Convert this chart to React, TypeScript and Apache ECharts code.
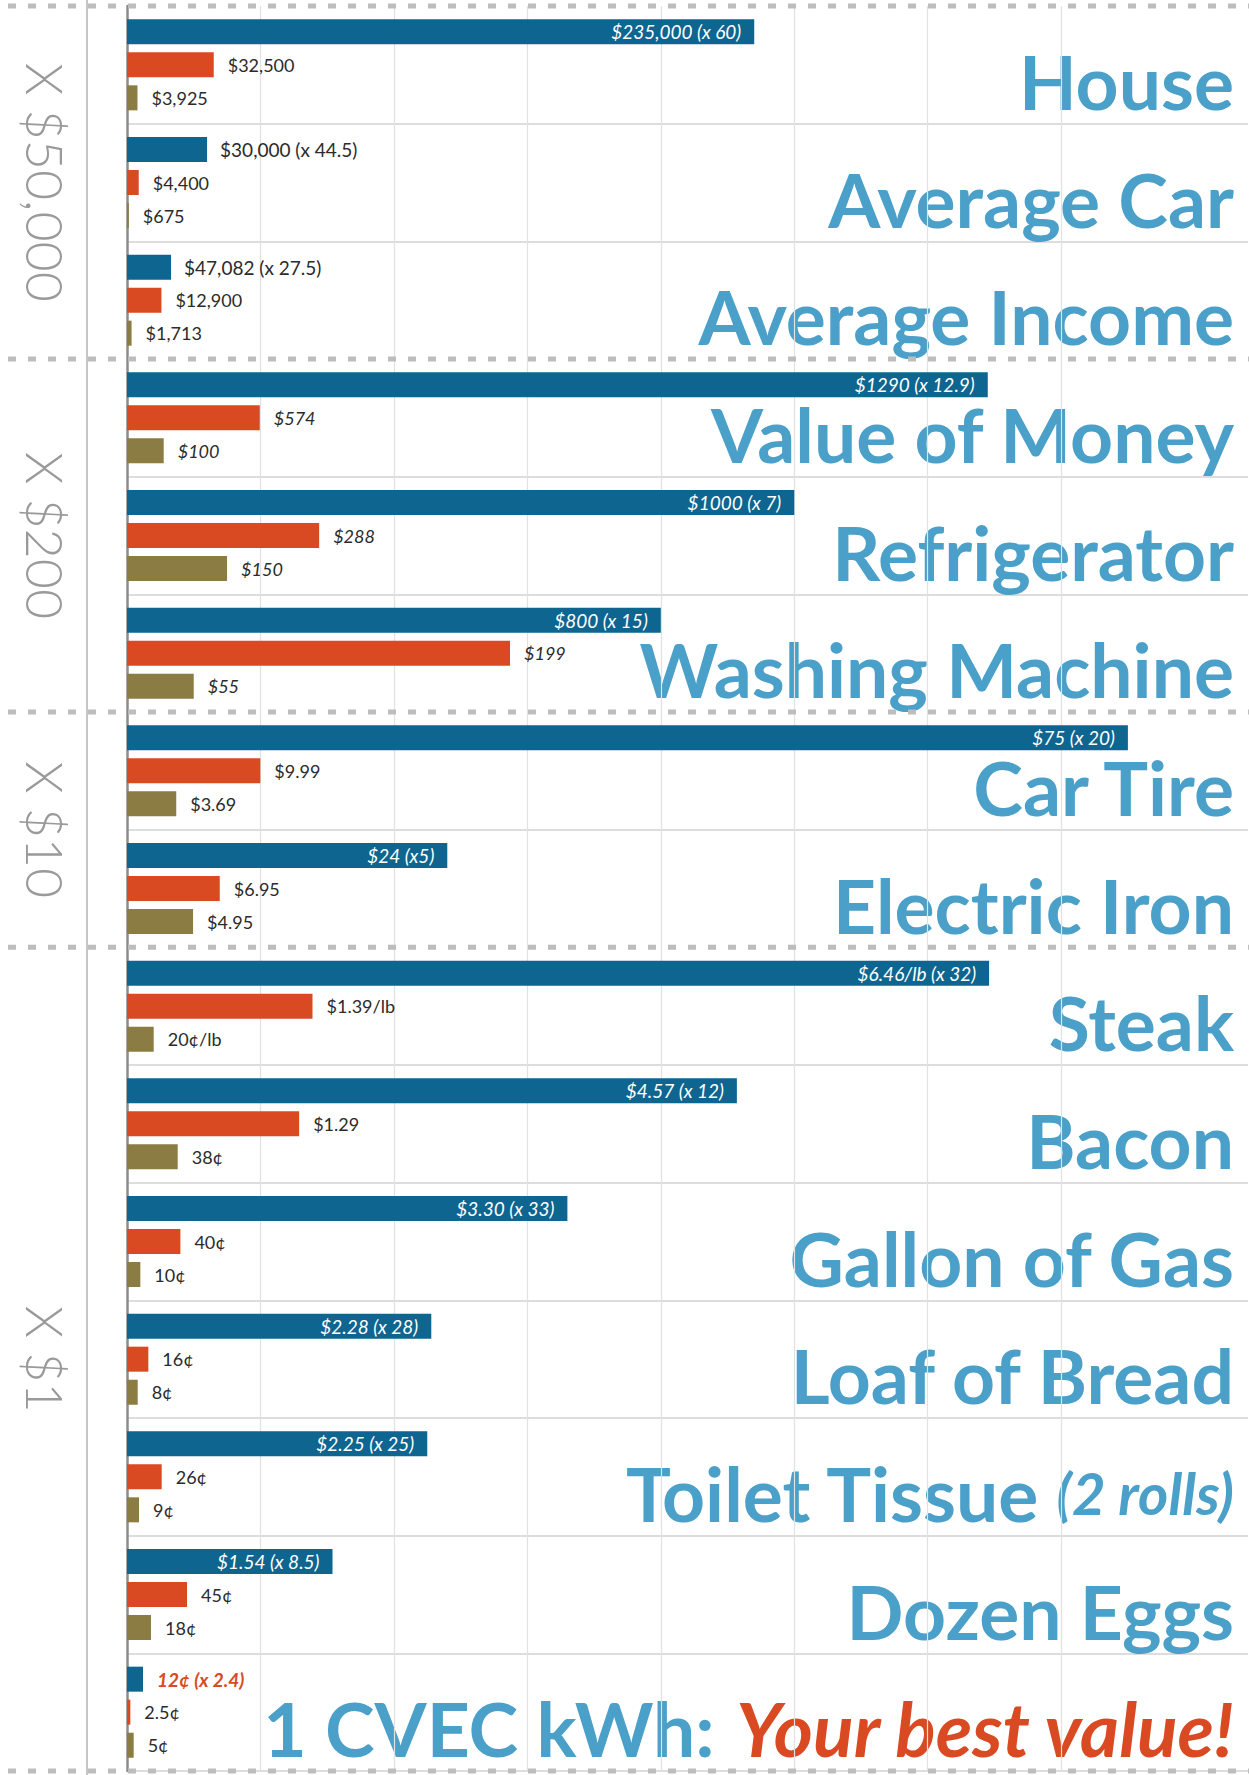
import React, { useEffect, useRef } from "react";
import * as echarts from "echarts";

// ---------- data ----------
const categories = [
  "House", "Average Car", "Average Income",
  "Value of Money", "Refrigerator", "Washing Machine",
  "Car Tire", "Electric Iron",
  "Steak", "Bacon", "Gallon of Gas", "Loaf of Bread", "Toilet Tissue", "Dozen Eggs", "1 CVEC kWh",
];

// dollars represented by one grid unit, per row
const rowScale = [50000, 50000, 50000, 200, 200, 200, 10, 10, 1, 1, 1, 1, 1, 1, 1];

const groupLabels = ["X $50,000", "X $200", "X $10", "X $1"];
const groupSizes = [3, 3, 2, 7];

// bar lengths (dollars) as drawn in the picture
// (the original draws Average Income's blue bar short and swaps the
//  red/olive bars of Value of Money and Washing Machine)
const todayPrices = [235000, 30000, 16500, 1290, 1000, 800, 75, 24, 6.46, 4.57, 3.3, 2.28, 2.25, 1.54, 0.12];
const midPrices = [32500, 4400, 12900, 199, 288, 574, 9.99, 6.95, 1.39, 1.29, 0.4, 0.16, 0.26, 0.45, 0.025];
const pastPrices = [3925, 675, 1713, 55, 150, 100, 3.69, 4.95, 0.2, 0.38, 0.1, 0.08, 0.09, 0.18, 0.05];

const todayLabels = [
  "$235,000 (x 60)", "$30,000 (x 44.5)", "$47,082 (x 27.5)",
  "$1290 (x 12.9)", "$1000 (x 7)", "$800 (x 15)",
  "$75 (x 20)", "$24 (x5)",
  "$6.46/lb (x 32)", "$4.57 (x 12)", "$3.30 (x 33)", "$2.28 (x 28)", "$2.25 (x 25)", "$1.54 (x 8.5)", "12¢ (x 2.4)",
];
const midLabels = [
  "$32,500", "$4,400", "$12,900",
  "$574", "$288", "$199",
  "$9.99", "$6.95",
  "$1.39/lb", "$1.29", "40¢", "16¢", "26¢", "45¢", "2.5¢",
];
const pastLabels = [
  "$3,925", "$675", "$1,713",
  "$100", "$150", "$55",
  "$3.69", "$4.95",
  "20¢/lb", "38¢", "10¢", "8¢", "9¢", "18¢", "5¢",
];

const gridUnits = [1, 2, 3, 4, 5, 6, 7];
const axisMax = 8.4;

// ---------- style ----------
const W = 1249;
const H = 1775;
const GRID_LEFT = 127;
const GRID_TOP = 6;
const GRID_BOTTOM = 4;
const GRID_RIGHT = 1;

const BLUE = "#0d6590";
const RED = "#d94a23";
const OLIVE = "#8a7c42";
const TITLE = "#4aa0c8";
const LABEL_FONT = "Lato";

function groupStarts(): number[] {
  const s = [0];
  groupSizes.forEach((n) => s.push(s[s.length - 1] + n));
  return s;
}

function groupOfRow(i: number): number {
  const s = groupStarts();
  for (let g = 0; g < groupSizes.length; g++) if (i >= s[g] && i < s[g + 1]) return g;
  return groupSizes.length - 1;
}

function buildOption() {
  const n = categories.length;
  const band = (H - GRID_TOP - GRID_BOTTOM) / n;
  const starts = groupStarts();
  const bestIdx = n - 1;

  const blueLabel = { fontFamily: LABEL_FONT, fontSize: 19, lineHeight: 16 };
  const sideFont = { fontFamily: LABEL_FONT, fontSize: 18 };

  const todayData = todayPrices.map((p, i) => {
    const v = p / rowScale[i];
    const inside = v > 1.5;
    let label: any;
    if (i === bestIdx) {
      label = { ...blueLabel, show: true, position: "right", distance: 14, color: RED, fontStyle: "italic", fontWeight: "bold", formatter: todayLabels[i] };
    } else if (inside) {
      label = { ...blueLabel, show: true, position: "insideRight", distance: 13, color: "#ffffff", fontStyle: "italic", formatter: todayLabels[i] };
    } else {
      label = { ...blueLabel, show: true, position: "right", distance: 13, color: "#2b2b2b", formatter: todayLabels[i] };
    }
    return { value: v, label };
  });

  const sideLabel = (texts: string[]) => (p: number, i: number) => ({
    value: p / rowScale[i],
    label: {
      ...sideFont,
      show: true,
      position: "right",
      distance: 14,
      color: "#2b2b2b",
      fontStyle: groupOfRow(i) === 1 ? "italic" : "normal",
      formatter: texts[i],
    },
  });

  const midData = midPrices.map(sideLabel(midLabels));
  const pastData = pastPrices.map(sideLabel(pastLabels));

  const hidden = new Set(starts);

  const graphic: any[] = [];
  graphic.push({
    type: "line",
    shape: { x1: 87, y1: 0, x2: 87, y2: H },
    style: { stroke: "#c6c6c6", lineWidth: 2 },
    z: 1,
  });
  starts.forEach((s) => {
    const y = GRID_TOP + s * band;
    graphic.push({
      type: "line",
      shape: { x1: 8, y1: y, x2: W, y2: y },
      style: { stroke: "#bdbdbd", lineWidth: 5, lineDash: [8, 12] },
      z: 10,
    });
  });
  groupLabels.forEach((t, g) => {
    const cy = GRID_TOP + ((starts[g] + starts[g + 1]) / 2) * band;
    graphic.push({
      type: "text",
      x: 46,
      y: cy,
      rotation: -Math.PI / 2,
      style: {
        text: t,
        fill: "#9a9a9a",
        font: `300 52px ${LABEL_FONT}`,
        align: "center",
        verticalAlign: "middle",
        textAlign: "center",
        textVerticalAlign: "middle",
      },
      z: 10,
    });
  });

  const titleFormatter = (v: string) => {
    if (v === "Toilet Tissue") return `{main|Toilet Tissue }{note|(2 rolls)}`;
    if (v === "1 CVEC kWh") return `{main|1 CVEC kWh: }{best|Your best value!}`;
    return `{main|${v}}`;
  };

  return {
    animation: false,
    backgroundColor: "#ffffff",
    grid: { left: GRID_LEFT, right: GRID_RIGHT, top: GRID_TOP, bottom: GRID_BOTTOM, containLabel: false },
    xAxis: {
      type: "value",
      min: 0,
      max: axisMax,
      axisLine: { show: false },
      axisTick: { show: false },
      axisLabel: { show: false },
      splitLine: { show: false },
    },
    yAxis: [
      {
        type: "category",
        data: categories,
        inverse: true,
        axisLine: { show: true, lineStyle: { color: "#8c8c8c", width: 2.5 } },
        axisTick: { show: false },
        axisLabel: { show: false },
        splitLine: {
          show: true,
          interval: (idx: number) => !hidden.has(idx),
          lineStyle: { color: "#d2d2d2", width: 1.5 },
        },
      },
      {
        type: "category",
        data: categories,
        inverse: true,
        position: "right",
        axisLine: { show: false },
        axisTick: { show: false },
        splitLine: { show: false },
        axisLabel: {
          show: true,
          inside: true,
          margin: 14,
          verticalAlign: "top",
          lineHeight: 32,
          formatter: titleFormatter,
          rich: {
            main: { fontFamily: LABEL_FONT, fontWeight: "bold", fontSize: 75, color: TITLE, lineHeight: 32 },
            note: { fontFamily: LABEL_FONT, fontStyle: "italic", fontWeight: "bold", fontSize: 58, color: TITLE, lineHeight: 32 },
            best: { fontFamily: LABEL_FONT, fontStyle: "italic", fontWeight: "bold", fontSize: 75, color: RED, lineHeight: 32 },
          },
        },
      },
    ],
    graphic,
    series: [
      {
        name: "grid",
        type: "line",
        data: [],
        silent: true,
        markLine: {
          silent: true,
          z: 1,
          symbol: "none",
          label: { show: false },
          lineStyle: { color: "#e1e1e1", width: 1.2, type: "solid" },
          data: gridUnits.map((u) => ({ xAxis: u })),
        },
      },
      {
        name: "Today",
        type: "bar",
        yAxisIndex: 0,
        barWidth: 25,
        barGap: "32%",
        z: 3,
        itemStyle: { color: BLUE },
        data: todayData,
      },
      {
        name: "Mid",
        type: "bar",
        yAxisIndex: 0,
        barWidth: 25,
        barGap: "32%",
        z: 3,
        itemStyle: { color: RED },
        data: midData,
      },
      {
        name: "Past",
        type: "bar",
        yAxisIndex: 0,
        barWidth: 25,
        barGap: "32%",
        z: 3,
        itemStyle: { color: OLIVE },
        data: pastData,
      },
    ],
  };
}

export default function App() {
  const ref = useRef<HTMLDivElement>(null);
  useEffect(() => {
    if (!ref.current) return;
    const chart = echarts.init(ref.current, undefined, { renderer: "svg" });
    chart.setOption(buildOption() as any);
    return () => chart.dispose();
  }, []);
  return (
    <div
      ref={ref}
      style={{ position: "absolute", left: 0, top: 0, width: W, height: H, background: "#fff" }}
    />
  );
}
